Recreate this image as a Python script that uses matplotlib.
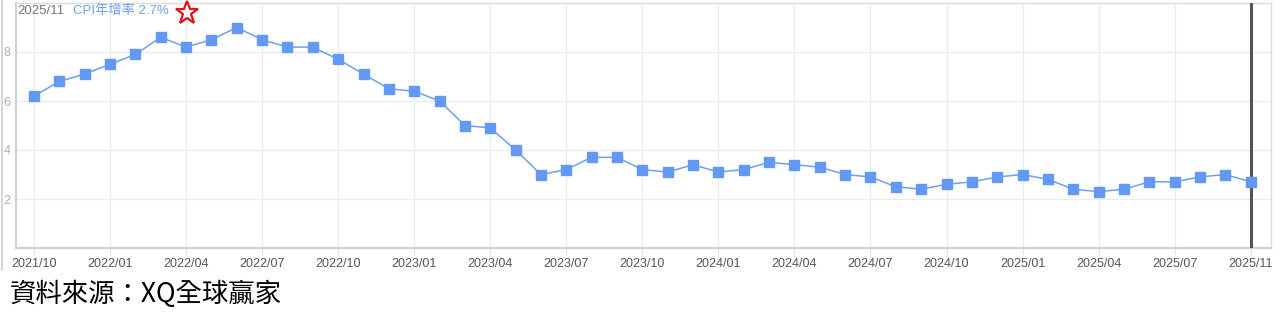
import matplotlib
matplotlib.use("Agg")
import matplotlib.pyplot as plt

# US CPI YoY (%), monthly; 2025/10 not published
months = ["2021/10", "2021/11", "2021/12",
          "2022/01", "2022/02", "2022/03", "2022/04", "2022/05", "2022/06",
          "2022/07", "2022/08", "2022/09", "2022/10", "2022/11", "2022/12",
          "2023/01", "2023/02", "2023/03", "2023/04", "2023/05", "2023/06",
          "2023/07", "2023/08", "2023/09", "2023/10", "2023/11", "2023/12",
          "2024/01", "2024/02", "2024/03", "2024/04", "2024/05", "2024/06",
          "2024/07", "2024/08", "2024/09", "2024/10", "2024/11", "2024/12",
          "2025/01", "2025/02", "2025/03", "2025/04", "2025/05", "2025/06",
          "2025/07", "2025/08", "2025/09", "2025/11"]
cpi = [6.2, 6.8, 7.1,
       7.5, 7.9, 8.6, 8.2, 8.5, 9.0,
       8.5, 8.2, 8.2, 7.7, 7.1, 6.5,
       6.4, 6.0, 5.0, 4.9, 4.0, 3.0,
       3.2, 3.7, 3.7, 3.2, 3.1, 3.4,
       3.1, 3.2, 3.5, 3.4, 3.3, 3.0,
       2.9, 2.5, 2.4, 2.6, 2.7, 2.9,
       3.0, 2.8, 2.4, 2.3, 2.4, 2.7,
       2.7, 2.9, 3.0, 2.7]
yticks = [2, 4, 6, 8]

plt.rcParams["font.family"] = ["Liberation Sans", "DejaVu Sans"]
cjk = ["Liberation Sans", "Noto Sans CJK TC", "DejaVu Sans"]

fig = plt.figure(figsize=(12.8, 3.22), dpi=100)
ax = fig.add_axes([16 / 1280, 1 - 248 / 322, (1271 - 16) / 1280, 245 / 322])

idx = list(range(len(cpi)))
ax.plot(idx, cpi, color="#6f9ff0", lw=1.1, marker="s", ms=7,
        mfc="#6398f5", mec="#6398f5", zorder=4)
ax.axvline(idx[-1], color="#555555", lw=2.2, zorder=3)

ax.set_xlim(-0.71, 48.8)
ax.set_ylim(0, 10)

tick_idx = idx[::3]
ax.set_xticks(tick_idx)
ax.set_xticklabels([months[i] for i in tick_idx])
ax.set_yticks(yticks)
ax.set_yticklabels([str(v) for v in yticks])

ax.grid(axis="y", color="#ececec", lw=1)
ax.grid(axis="x", color="#e2eef8", lw=1)
ax.set_axisbelow(True)

ax.tick_params(axis="x", colors="#d6e6f5", labelcolor="#555555",
               labelsize=9, length=5, pad=2.5)
ax.tick_params(axis="y", length=0, labelcolor="#b0b0b0", labelsize=9, pad=4)

for s in ["left", "bottom"]:
    ax.spines[s].set_color("#d0d0d0")
    ax.spines[s].set_linewidth(1.5)
for s in ["top", "right"]:
    ax.spines[s].set_color("#dcdcdc")
    ax.spines[s].set_linewidth(1)

# outer frame line at the left edge
fig.add_artist(plt.Line2D([2 / 1280, 2 / 1280], [1 - 270 / 322, 1],
                          color="#cccccc", lw=1.2, transform=fig.transFigure))

# header
fig.text(17 / 1280, 1 - 11 / 322, months[-1], color="#777777",
         fontsize=9.5, va="center", ha="left")
fig.text(73 / 1280, 1 - 11 / 322, f"CPI年增率 {cpi[-1]}%", color="#6d9ff2",
         fontsize=9.5, va="center", ha="left", family=cjk)
fig.add_artist(plt.Line2D([187 / 1280], [1 - 13 / 322], marker="*", ms=17,
                          mfc="white", mec="#e8101a", mew=1.6,
                          transform=fig.transFigure))

# source line
fig.text(10 / 1280, 1 - 294 / 322, "資料來源：XQ全球贏家", color="black",
         fontsize=19, va="center", ha="left",
         family=["Noto Sans CJK TC", "DejaVu Sans"])

fig.savefig("out.png", dpi=100, facecolor="white")
